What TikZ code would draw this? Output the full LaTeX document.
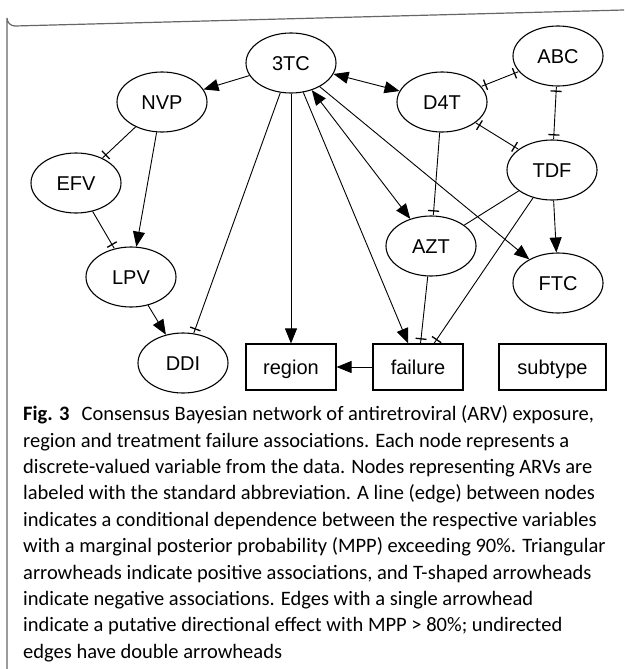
\documentclass[tikz,border=0pt]{standalone}
\usepackage{fontspec}
\setmainfont{Carlito}
\newfontfamily\nodefont{Liberation Sans}
\usetikzlibrary{arrows.meta,shapes.geometric}
\tikzset{
  PosTip/.tip={Triangle[length=15pt,width=12pt]},
  NegTip/.tip={Bar[width=11pt,line width=1.3pt] Rectangle[length=4pt,width=0.9pt]},
}
\begin{document}
\begin{tikzpicture}[x=1pt,y=-1pt,
  vnode/.style={draw, ellipse, line width=1.1pt, minimum width=90pt, minimum height=60pt, inner sep=0pt,
    text height=14.3pt, text depth=0pt, font=\nodefont\fontsize{20}{20}\selectfont},
  bnode/.style={draw, rectangle, line width=1.1pt, minimum width=90pt, minimum height=46pt, inner sep=0pt,
    text height=14.3pt, text depth=0pt, font=\nodefont\fontsize{20}{20}\selectfont},
  edgeline/.style={line width=0.9pt},
  posedge/.style={edgeline,-PosTip},
  biposedge/.style={edgeline,PosTip-PosTip},
  negedge/.style={edgeline,-NegTip},
  binegedge/.style={edgeline,NegTip-NegTip},
  capline/.style={anchor=base west, inner sep=0pt, font=\fontsize{20.5}{26}\selectfont},
  frame/.style={draw=black!60, line width=1.2pt}
]
\useasboundingbox (0,0) rectangle (624,669);
\draw[frame] (7,669) -- (7,18) arc[start angle=180,end angle=90,radius=8] -- (624,10);

\node[vnode] (n3TC) at (291,63) {3TC};
\node[vnode] (NVP) at (162,102) {NVP};
\node[vnode] (D4T) at (442,102) {D4T};
\node[vnode] (ABC) at (558,56) {ABC};
\node[vnode] (EFV) at (76,183) {EFV};
\node[vnode] (TDF) at (552,170) {TDF};
\node[vnode] (AZT) at (431,246) {AZT};
\node[vnode] (LPV) at (131,277) {LPV};
\node[vnode] (FTC) at (558,283) {FTC};
\node[vnode] (DDI) at (183,363) {DDI};
\node[bnode] (region) at (291,367) {region};
\node[bnode] (failure) at (418,367) {failure};
\node[bnode, minimum width=107pt] (subtype) at (552.5,367) {subtype};

\draw[posedge] (n3TC) -- (NVP);
\draw[biposedge] (n3TC) -- (D4T);
\draw[binegedge] (D4T) -- (ABC);
\draw[binegedge] (ABC) -- (TDF);
\draw[binegedge] (D4T) -- (TDF);
\draw[negedge] (D4T) -- (AZT);
\draw[biposedge] (n3TC) -- (AZT);
\draw[posedge] (n3TC) -- (failure);
\draw[posedge] (n3TC) -- (region);
\draw[negedge] (n3TC) -- (DDI);
\draw[posedge] (n3TC) -- (FTC);
\draw[negedge] (NVP) -- (EFV);
\draw[posedge] (NVP) -- (LPV);
\draw[negedge] (EFV) -- (LPV);
\draw[posedge] (LPV) -- (DDI);
\draw[posedge] (TDF) -- (FTC);
\draw[edgeline] (TDF) -- (AZT);
\draw[negedge] (TDF) -- (failure);
\draw[negedge] (AZT) -- (failure);
\draw[posedge] (failure) -- (region);

\node[capline] (cap1) at (23,420.7) {\textbf{Fig. 3}\hspace{0.6em}Consensus Bayesian network of antiretroviral (ARV) exposure,};
\node[capline] (cap2) at (23,447.1) {region and treatment failure associations. Each node represents a};
\node[capline] (cap3) at (23,473.5) {discrete-valued variable from the data. Nodes representing ARVs are};
\node[capline] (cap4) at (23,499.9) {labeled with the standard abbreviation. A line (edge) between nodes};
\node[capline] (cap5) at (23,526.3) {indicates a conditional dependence between the respective variables};
\node[capline] (cap6) at (23,552.7) {with a marginal posterior probability (MPP) exceeding 90\%. Triangular};
\node[capline] (cap7) at (23,579.1) {arrowheads indicate positive associations, and T-shaped arrowheads};
\node[capline] (cap8) at (23,605.5) {indicate negative associations. Edges with a single arrowhead};
\node[capline] (cap9) at (23,631.9) {indicate a putative directional effect with MPP > 80\%; undirected};
\node[capline] (cap10) at (23,658.3) {edges have double arrowheads};
\end{tikzpicture}
\end{document}
